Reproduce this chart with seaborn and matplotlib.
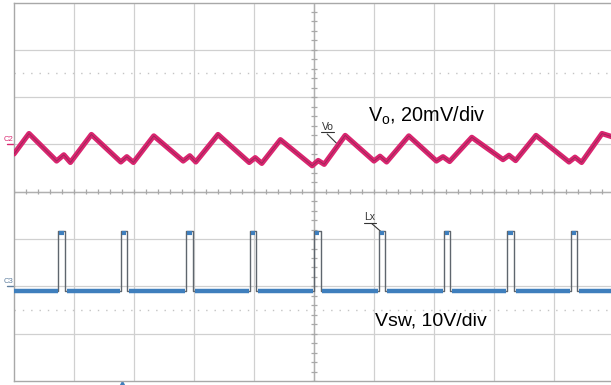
import numpy as np
import pandas as pd
import matplotlib.pyplot as plt
import seaborn as sns

# scope screen units: x in time divisions (0..10), y in vertical divisions (-4..4)

# Vo ripple trace (C2), vertices
vo_t = [0.00, 0.25, 0.71, 0.83, 0.94, 1.29, 1.78, 1.88, 1.99, 2.33, 2.82, 2.93, 3.03,
        3.40, 3.92, 4.02, 4.13, 4.44, 4.97, 5.07, 5.17, 5.52, 6.00, 6.10, 6.21, 6.58,
        7.04, 7.15, 7.26, 7.63, 8.15, 8.25, 8.36, 8.70, 9.25, 9.35, 9.46, 9.80, 10.0]
vo_y = [0.80, 1.23, 0.65, 0.78, 0.62, 1.21, 0.63, 0.74, 0.62, 1.18, 0.65, 0.76, 0.63,
        1.21, 0.62, 0.72, 0.60, 1.10, 0.55, 0.66, 0.58, 1.19, 0.65, 0.75, 0.63, 1.18,
        0.65, 0.74, 0.64, 1.15, 0.68, 0.77, 0.66, 1.19, 0.63, 0.73, 0.62, 1.23, 1.15]

# Vsw switch node (C3): pulse edges
sw_on = [0.74, 1.78, 2.87, 3.93, 5.00, 6.08, 7.16, 8.22, 9.29]
sw_off = [0.85, 1.89, 2.98, 4.04, 5.11, 6.19, 7.27, 8.33, 9.39]
sw_low = -2.09
sw_high = -0.84

c2_level = 1.0
c3_level = -2.0

sns.set_style("white")
plt.rcParams['font.family'] = ['Liberation Sans', 'DejaVu Sans']
plt.rcParams['mathtext.fontset'] = 'custom'
plt.rcParams['mathtext.rm'] = 'Liberation Sans'

fig = plt.figure(figsize=(6.11, 3.85), dpi=100)
ax = fig.add_axes([14 / 611, 4 / 385, 600 / 611, 378.5 / 385])
ax.set_xlim(0, 10)
ax.set_ylim(-4, 4)
ax.set_xticks([])
ax.set_yticks([])
for s in ax.spines.values():
    s.set_color("#a8a8a8")
    s.set_linewidth(1.0)

# graticule
grid_c = "#d0d0d0"
ax.vlines(np.arange(1, 10), -4, 4, color=grid_c, lw=0.9, zorder=0)
ax.hlines(np.arange(-3, 4), 0, 10, color=grid_c, lw=0.9, zorder=0)
ax.hlines([2.5, -2.5], 0, 10, color="#c4c4c4", lw=1.0, linestyles=(0, (1, 5)), zorder=0)
# center axes with minor ticks
ax.axvline(5, color="#b0b0b0", lw=1.0, zorder=0)
ax.axhline(0, color="#b0b0b0", lw=1.0, zorder=0)
ax.hlines(np.arange(-4, 4.01, 0.2), 4.955, 5.045, color="#a8a8a8", lw=0.9, zorder=0)
ax.vlines(np.arange(0, 10.01, 0.2), -0.055, 0.055, color="#a8a8a8", lw=0.9, zorder=0)

# Vsw trace
t, v = [0.0], [sw_low]
for a, b in zip(sw_on, sw_off):
    t += [a, a, b, b]
    v += [sw_low, sw_high, sw_high, sw_low]
t.append(10.0)
v.append(sw_low)
sw = pd.DataFrame({"t": t, "v": v})
sns.lineplot(data=sw, x="t", y="v", sort=False, estimator=None, color="#5f666e", lw=1.0,
             ax=ax, zorder=3)
low_start = [0.0] + [b + 0.03 for b in sw_off]
low_end = [a - 0.015 for a in sw_on] + [10.0]
ax.hlines([sw_low] * len(low_start), low_start, low_end, color="#3f7fbd", lw=3.2, zorder=4)
ax.hlines([sw_high - 0.04] * len(sw_on), [a + 0.015 for a in sw_on], [b - 0.02 for b in sw_off],
          color="#3f7fbd", lw=3.0, zorder=4)

# Vo trace
vo = pd.DataFrame({"t": vo_t, "v": vo_y})
sns.lineplot(data=vo, x="t", y="v", sort=False, estimator=None, color="#d9256f", lw=3.8,
             solid_joinstyle="round", ax=ax, zorder=5)
sns.lineplot(data=vo, x="t", y="v", sort=False, estimator=None, color="#6a2a48", lw=0.6,
             alpha=0.6, ax=ax, zorder=6)

# labels
ax.text(5.9, 1.60, r"V$_\mathrm{o}$, 20mV/div", fontsize=14.3, color="black", va="center")
ax.text(6.02, -2.73, "Vsw, 10V/div", fontsize=14, color="black", va="center")

ax.text(5.23, 1.37, "Vo", fontsize=7.5, ha="center", va="center", color="#333333")
ax.plot([5.12, 5.34], [1.26, 1.26], color="#333333", lw=0.8)
ax.plot([5.22, 5.42], [1.22, 0.97], color="#333333", lw=0.8)
ax.text(5.93, -0.53, "Lx", fontsize=7.5, ha="center", va="center", color="#333333")
ax.plot([5.84, 6.03], [-0.65, -0.65], color="#333333", lw=0.8)
ax.plot([5.96, 6.15], [-0.67, -0.88], color="#333333", lw=0.8)

# channel markers left of the screen
ax.text(-0.10, c2_level + 0.1, "C2", fontsize=5.5, color="#d9256f", ha="center", va="center", clip_on=False)
ax.plot([-0.12, 0.0], [c2_level, c2_level], color="#d9256f", lw=1.0, clip_on=False)
ax.text(-0.10, c3_level + 0.1, "C3", fontsize=5.5, color="#5f7f9f", ha="center", va="center", clip_on=False)
ax.plot([-0.12, 0.0], [c3_level, c3_level], color="#5f7f9f", lw=1.0, clip_on=False)

# trigger position marker
ax.plot([1.80], [-4.09], marker="^", ms=6, color="#3f7fbd", clip_on=False)

ax.set_xlabel("")
ax.set_ylabel("")
fig.savefig("out.png", dpi=100)
plt.close(fig)
